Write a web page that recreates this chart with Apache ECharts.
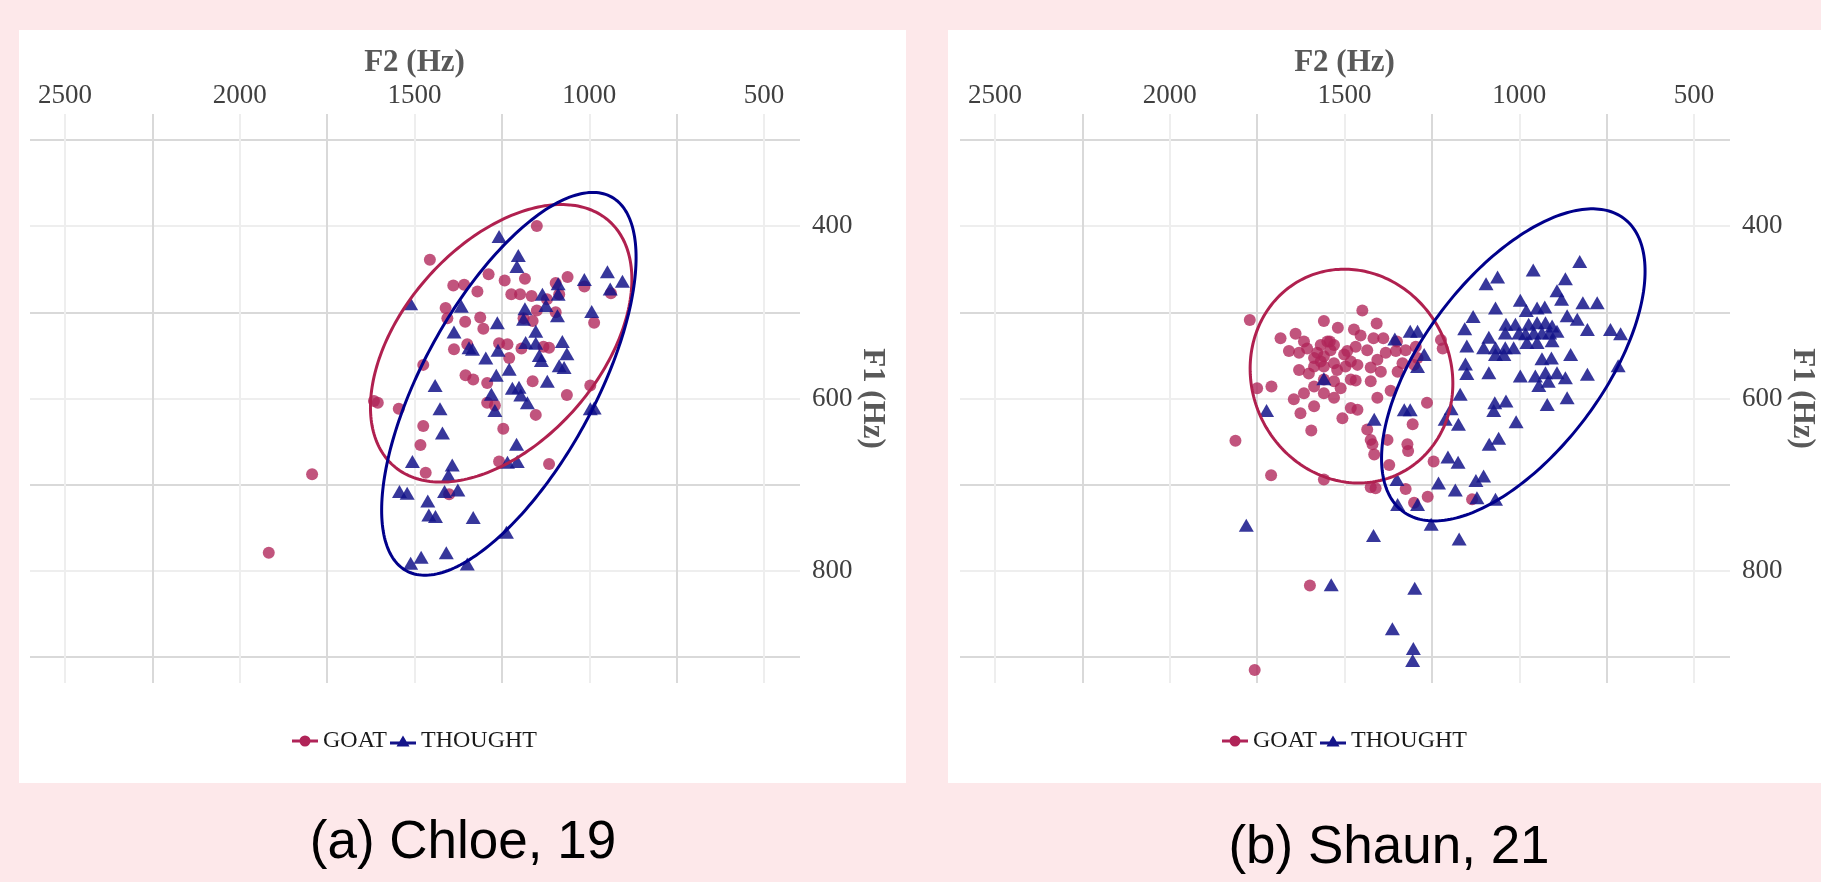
<!DOCTYPE html>
<html><head><meta charset="utf-8">
<script src="https://cdn.jsdelivr.net/npm/echarts@6.0.0/dist/echarts.min.js"></script>
<style>html,body{margin:0;padding:0;background:#fde8ea;} #c{width:1821px;height:882px;}</style>
</head><body><div id="c"></div>
<script>
// ---- tick labels / names ----
const xTickLabels = [2500, 2000, 1500, 1000, 500];
const yTickLabels = [400, 600, 800];
const seriesNames = ['GOAT', 'THOUGHT'];
const captions = ['(a) Chloe, 19', '(b) Shaun, 21'];
const xTitle = 'F2 (Hz)';
const yTitle = 'F1 (Hz)';

// ---- data: [F2 (Hz), F1 (Hz)] ----
const chloeGoat = [[1150,400],[1456,439],[1288,456],[1242,463],[1184,461],[1062,459],[1389,469],[1358,468],[1320,476],[1223,479],[1198,479],[1165,481],[1096,466],[1014,470],[938,478],[1121,485],[1086,479],[1411,495],[1406,507],[1355,511],[1312,506],[1303,519],[1188,507],[1162,510],[1150,498],[1096,500],[986,512],[1349,537],[1387,543],[1258,536],[1234,537],[1229,553],[1194,542],[1131,540],[1115,541],[1475,561],[1354,573],[1332,578],[1292,582],[1162,580],[997,585],[1064,596],[1616,603],[1605,605],[1545,612],[1292,605],[1270,608],[1153,619],[1475,632],[1246,635],[1483,654],[1258,673],[1115,676],[1468,686],[1793,688],[1401,711],[1917,779]];
const chloeThought = [[1258,412],[1203,434],[1207,447],[948,453],[1014,462],[905,464],[1089,467],[940,473],[1134,479],[1089,479],[1124,492],[1511,490],[1366,493],[1184,496],[1188,508],[1091,504],[993,499],[1263,512],[1387,523],[1153,522],[1344,541],[1334,543],[1261,544],[1182,535],[1153,536],[1077,534],[1064,548],[1296,553],[1143,550],[1137,556],[1086,562],[1072,564],[1229,566],[1266,573],[1120,580],[1441,585],[1220,588],[1201,587],[1280,595],[1196,596],[1177,605],[997,612],[986,611],[1427,612],[1270,614],[1420,640],[1208,653],[1506,673],[1234,674],[1206,673],[1392,677],[1403,689],[1543,708],[1521,710],[1414,708],[1376,706],[1462,719],[1459,735],[1440,737],[1332,738],[1237,755],[1511,791],[1481,784],[1409,779],[1349,792]];
const shaunGoat = [[1771,509],[1449,498],[1559,510],[1408,513],[1519,518],[1683,530],[1640,525],[1473,520],[1454,527],[1417,530],[1389,530],[1350,534],[1616,534],[1542,534],[1530,538],[1659,545],[1630,547],[1607,542],[1578,547],[1559,551],[1568,557],[1530,559],[1492,545],[1501,549],[1468,540],[1435,544],[1406,555],[1382,547],[1353,545],[1325,544],[1296,540],[1224,532],[1219,542],[1630,567],[1602,571],[1587,563],[1559,563],[1521,567],[1497,563],[1463,561],[1425,564],[1396,569],[1348,569],[1334,559],[1301,561],[1291,553],[1750,588],[1709,586],[1587,586],[1559,578],[1530,580],[1511,588],[1482,578],[1468,579],[1425,580],[1645,601],[1616,594],[1559,594],[1530,599],[1406,599],[1368,591],[1626,617],[1587,609],[1482,611],[1463,613],[1506,623],[1264,605],[1595,637],[1305,630],[1812,649],[1435,636],[1425,648],[1420,653],[1377,648],[1320,653],[1318,661],[1415,665],[1372,677],[1245,673],[1710,689],[1559,694],[1425,703],[1411,704],[1325,705],[1262,714],[1301,721],[1135,717],[1599,817],[1757,915],[1568,538],[1549,534],[1540,544],[1587,553],[1482,557]];
const shaunThought = [[1781,747],[1417,759],[1538,816],[1299,820],[1363,867],[1303,890],[1305,904],[1723,614],[1415,624],[1329,613],[1312,613],[1356,531],[1312,522],[1291,522],[1291,563],[1272,549],[1350,694],[1348,723],[1291,723],[1559,577],[827,441],[960,451],[1062,459],[1095,467],[868,461],[892,475],[879,485],[818,489],[777,489],[997,486],[1068,495],[1132,505],[1156,519],[980,498],[949,495],[927,494],[863,504],[834,508],[805,520],[739,520],[710,525],[1038,514],[1011,514],[973,514],[949,512],[925,512],[906,516],[1040,524],[1001,524],[982,525],[958,524],[935,524],[913,524],[892,522],[1087,529],[1150,539],[1102,541],[1068,541],[1040,541],[1016,541],[978,535],[949,535],[906,533],[1068,549],[1044,549],[1154,560],[935,554],[908,553],[853,549],[1087,570],[1150,571],[997,574],[954,574],[925,570],[892,570],[868,576],[805,572],[944,585],[917,580],[717,562],[1169,595],[1195,612],[1070,605],[1038,603],[1073,614],[920,607],[863,599],[1212,624],[1174,630],[1009,627],[1059,646],[1086,653],[1204,668],[1175,674],[1231,698],[1183,706],[1124,695],[1102,690],[1121,715],[1068,717],[1252,746],[1172,763]];

// ---- ellipses: [centre F2, centre F1, half-range F2, half-range F1, cos(phase)] ----
const chloeGoatEllipse = [1252, 536, 374, 161, 0.46];
const chloeThoughtEllipse = [1230, 583, 364, 222, 0.66];
const shaunGoatEllipse = [1480, 574, 290, 124, -0.07];
const shaunThoughtEllipse = [1017, 561, 377, 181, 0.60];

// ---- styles ----
const SERIF = '"Liberation Serif", "DejaVu Serif", serif';
const SANS = '"Liberation Sans", Arial, sans-serif';
const GOAT_COLOR = '#b02458';
const THOUGHT_COLOR = '#14148a';
const GOAT_LINE = '#b0204f';
const THOUGHT_LINE = '#00008b';
const GRID_DARK = '#d9d9d9';
const GRID_LIGHT = '#eeeeee';
const goatIcon = 'path://M0,5 L26,5 L26,8 L0,8 Z M13,1 A5.5,5.5 0 1 1 12.99,1 Z';
const thoughtIcon = 'path://M0,6 L26,6 L26,9 L0,9 Z M13,0 L19.5,11 L6.5,11 Z';

function ellipseRenderer(color) {
  return function (params, api) {
    const cx = api.value(0), cy = api.value(1), rx = api.value(2), ry = api.value(3);
    const phi = Math.acos(api.value(4));
    const pts = [];
    for (let k = 0; k <= 240; k++) {
      const t = k / 240 * 2 * Math.PI;
      pts.push(api.coord([cx + rx * Math.cos(t), cy + ry * Math.cos(t - phi)]));
    }
    return { type: 'polyline', shape: { points: pts }, style: { stroke: color, lineWidth: 3, fill: null } };
  };
}

const grids = [], xAxes = [], yAxes = [], series = [], legends = [];
function addPanel(idx, dx, goat, thought, goatEll, thoughtEll) {
  const gV = grids.length, gH = gV + 1;
  grids.push({ left: 65 + dx, top: 114, width: 699, height: 569, containLabel: false, outerBoundsMode: 'none' });
  grids.push({ left: 30 + dx, top: 140, width: 770, height: 517, containLabel: false, outerBoundsMode: 'none' });
  xAxes.push({
    gridIndex: gV, type: 'value', min: 500, max: 2500, interval: 250, inverse: true, position: 'top',
    axisLine: { show: false }, axisTick: { show: false },
    splitLine: { show: true, lineStyle: { color: [GRID_LIGHT, GRID_DARK], width: 2 } },
    axisLabel: { formatter: v => xTickLabels.includes(v) ? String(v) : '', fontFamily: SERIF, fontSize: 27, color: '#404040', margin: 5 },
    name: xTitle, nameLocation: 'middle', nameGap: 36, nameMoveOverlap: false,
    nameTextStyle: { fontFamily: SERIF, fontSize: 31, fontWeight: 'bold', color: '#595959' }
  });
  yAxes.push({ gridIndex: gV, type: 'value', min: 270, max: 930, inverse: true, show: false });
  xAxes.push({ gridIndex: gH, type: 'value', min: 0, max: 1, show: false });
  yAxes.push({
    gridIndex: gH, type: 'value', min: 300, max: 900, interval: 100, inverse: true, position: 'right',
    axisLine: { show: false }, axisTick: { show: false },
    splitLine: { show: true, lineStyle: { color: [GRID_DARK, GRID_LIGHT], width: 2 } },
    axisLabel: { formatter: v => yTickLabels.includes(v) ? String(v) : '', fontFamily: SERIF, fontSize: 27, color: '#404040', margin: 12, align: 'left' },
    name: yTitle, nameLocation: 'middle', nameRotate: -90, nameGap: 57, nameMoveOverlap: false,
    nameTextStyle: { fontFamily: SERIF, fontSize: 31, fontWeight: 'bold', color: '#595959' }
  });
  series.push({ type: 'scatter', name: seriesNames[0], xAxisIndex: gV, yAxisIndex: gV, data: goat,
    symbol: 'circle', symbolSize: 12, itemStyle: { color: GOAT_COLOR, opacity: 0.78 }, z: 3, silent: true });
  series.push({ type: 'scatter', name: seriesNames[1], xAxisIndex: gV, yAxisIndex: gV, data: thought,
    symbol: 'triangle', symbolSize: [15, 13], itemStyle: { color: THOUGHT_COLOR, opacity: 0.85 }, z: 3, silent: true });
  series.push({ type: 'custom', name: 'GOAT ellipse ' + idx, xAxisIndex: gV, yAxisIndex: gV, data: [goatEll],
    encode: { x: 0, y: 1 }, renderItem: ellipseRenderer(GOAT_LINE), z: 5, silent: true });
  series.push({ type: 'custom', name: 'THOUGHT ellipse ' + idx, xAxisIndex: gV, yAxisIndex: gV, data: [thoughtEll],
    encode: { x: 0, y: 1 }, renderItem: ellipseRenderer(THOUGHT_LINE), z: 5, silent: true });
  legends.push({
    data: [{ name: seriesNames[0], icon: goatIcon }, { name: seriesNames[1], icon: thoughtIcon }],
    left: 292 + dx, top: 729, itemWidth: 26, itemHeight: 11, itemGap: 3, padding: 0,
    selectedMode: false, itemStyle: { opacity: 1 },
    textStyle: { fontFamily: SERIF, fontSize: 24, color: '#1a1a1a' }
  });
}
addPanel(0, 0, chloeGoat, chloeThought, chloeGoatEllipse, chloeThoughtEllipse);
addPanel(1, 930, shaunGoat, shaunThought, shaunGoatEllipse, shaunThoughtEllipse);

const chart = echarts.init(document.getElementById('c'), null, { renderer: 'canvas', width: 1821, height: 882 });
chart.setOption({
  backgroundColor: '#fde8ea',
  animation: false,
  grid: grids, xAxis: xAxes, yAxis: yAxes, series: series, legend: legends,
  graphic: [
    { type: 'rect', shape: { x: 19, y: 30, width: 887, height: 753 }, style: { fill: '#ffffff' }, z: -100, silent: true },
    { type: 'rect', shape: { x: 948, y: 30, width: 873, height: 753 }, style: { fill: '#ffffff' }, z: -100, silent: true },
    { type: 'text', x: 463, y: 843, style: { text: captions[0], fontFamily: SANS, fontSize: 53, fill: '#000', align: 'center', verticalAlign: 'middle' }, silent: true },
    { type: 'text', x: 1389, y: 848, style: { text: captions[1], fontFamily: SANS, fontSize: 53, fill: '#000', align: 'center', verticalAlign: 'middle' }, silent: true }
  ]
});
</script></body></html>
